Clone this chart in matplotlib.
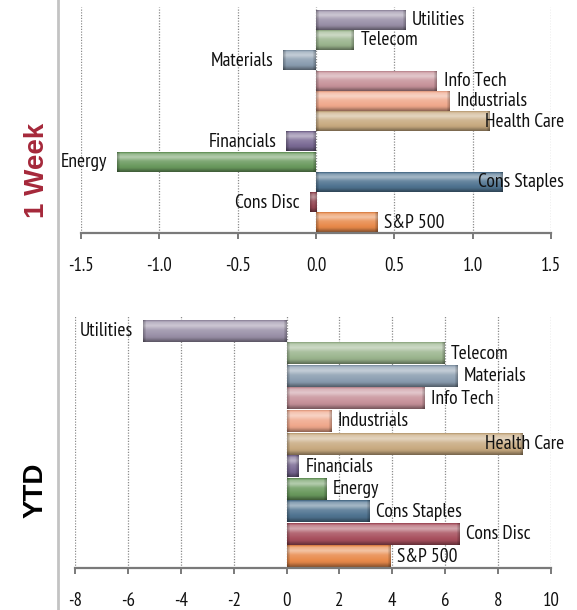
import numpy as np
import matplotlib
matplotlib.use("Agg")
import matplotlib.pyplot as plt
from matplotlib.colors import to_rgb
from matplotlib.lines import Line2D

plt.rcParams["font.family"] = ["PT Sans Narrow", "DejaVu Sans"]
plt.rcParams["axes.unicode_minus"] = False

# ── Data (bottom to top, as drawn) ────────────────────────────────────────────
sectors = ["S&P 500", "Cons Disc", "Cons Staples", "Energy", "Financials",
           "Health Care", "Industrials", "Info Tech", "Materials", "Telecom",
           "Utilities"]
week_values = [0.39, -0.04, 1.19, -1.27, -0.19, 1.11, 0.85, 0.77, -0.21, 0.24, 0.57]
ytd_values = [3.93, 6.54, 3.12, 1.50, 0.45, 8.90, 1.67, 5.19, 6.43, 5.96, -5.41]
bar_colors = ["#E8894A", "#A8505E", "#4F7390", "#6A9A5E", "#7A6A94",
              "#C8AA80", "#F0A88C", "#C7929A", "#8A9DB0", "#9BB58E",
              "#9A90A8"]
week_ticks = [-1.5, -1.0, -0.5, 0.0, 0.5, 1.0, 1.5]
ytd_ticks = [-8, -6, -4, -2, 0, 2, 4, 6, 8, 10]

DPI = 100
fig = plt.figure(figsize=(5.77, 6.10), dpi=DPI)


def glass_bar(ax, y, w, h, color, px_per_unit):
    """Bar with a glossy bevel look, drawn as a small image."""
    base = np.array(to_rgb(color))
    rows = 40
    t = np.linspace(0, 1, rows)  # 0 = top, 1 = bottom
    # vertical profile: dark rim, bright highlight near the top, darker base
    light = np.interp(t, [0.0, 0.08, 0.25, 0.45, 0.8, 1.0],
                      [-0.12, 0.3, 0.5, 0.15, -0.05, -0.4])
    ncol = max(int(abs(w) * px_per_unit), 3)
    col = np.ones(ncol)
    edge = min(3, ncol // 2)
    for k in range(edge):
        f = 0.75 + 0.08 * k
        col[k] = f
        col[-1 - k] = f
    img = np.zeros((rows, ncol, 3))
    for r in range(rows):
        if light[r] >= 0:
            c = base + (1 - base) * light[r]
        else:
            c = base * (1 + light[r])
        img[r] = np.clip(np.outer(col, c), 0, 1)
    x0, x1 = min(0, w), max(0, w)
    ax.imshow(img, extent=[x0, x1, y - h / 2, y + h / 2], aspect="auto",
              interpolation="bilinear", zorder=2)


def draw_panel(rect, values, ticks, top_pad):
    ax = fig.add_axes(rect)
    lo, hi = ticks[0], ticks[-1]
    px_per_unit = rect[2] * fig.get_figwidth() * DPI / (hi - lo)
    for i, (v, c) in enumerate(zip(values, bar_colors)):
        glass_bar(ax, i, v, 0.94, c, px_per_unit)
    ax.set_xlim(lo, hi)
    ax.set_ylim(-0.5, len(values) - 0.5 + top_pad)
    ax.set_xticks(ticks)
    ax.set_xticklabels([f"{t:.1f}" if isinstance(t, float) else str(t) for t in ticks])
    ax.set_yticks([])
    for s in ["left", "top", "right"]:
        ax.spines[s].set_visible(False)
    ax.spines["bottom"].set_color("#7a7a7a")
    ax.spines["bottom"].set_linewidth(1.6)
    ax.spines["bottom"].set_zorder(3)
    ax.tick_params(axis="x", direction="out", length=4, width=1.4,
                   color="#7a7a7a", labelsize=13.5, pad=13, labelcolor="#111111")
    ax.grid(axis="x", linestyle=(0, (1, 1.2)), color="#8c8c8c", linewidth=0.9)
    ax.set_axisbelow(True)

    labels = []
    for i, (name, v) in enumerate(zip(sectors, values)):
        if v >= 0:
            ann = ax.annotate(name, xy=(v, i), xytext=(5, 0),
                              textcoords="offset points", ha="left",
                              va="center", fontsize=14, color="#111111",
                              zorder=4, annotation_clip=False)
        else:
            ann = ax.annotate(name, xy=(v, i), xytext=(-7.2, 0),
                              textcoords="offset points", ha="right",
                              va="center", fontsize=14, color="#111111",
                              zorder=4, annotation_clip=False)
        labels.append(ann)
    return ax, labels


ax1, lab1 = draw_panel([81 / 577, 0.618, 470 / 577, 0.3705], week_values,
                       week_ticks, 0.15)
ax2, lab2 = draw_panel([75 / 577, 0.0689, 476 / 577, 0.4147], ytd_values,
                       ytd_ticks, 0.22)

# keep labels inside the chart area on the right, like the original
fig.canvas.draw()
right_limit = 564
for ann in lab1 + lab2:
    bb = ann.get_window_extent()
    if bb.x1 > right_limit:
        dx, dy = ann.xyann
        ann.xyann = (dx - (bb.x1 - right_limit) * 72 / DPI, dy)

fig.text(37 / 577, 1 - 170 / 610, "1 Week", rotation=90, ha="center",
         va="center", fontsize=20, fontweight="bold", color="#A5283A",
         family=["Liberation Sans", "DejaVu Sans"])
fig.text(36 / 577, 1 - 490 / 610, "YTD", rotation=90, ha="center",
         va="center", fontsize=20, fontweight="bold", color="black",
         family=["Liberation Sans", "DejaVu Sans"])
fig.add_artist(Line2D([58 / 577, 58 / 577], [0, 1], transform=fig.transFigure,
                      color="#c3c3c3", linewidth=2))

fig.savefig("out.png", dpi=DPI)
